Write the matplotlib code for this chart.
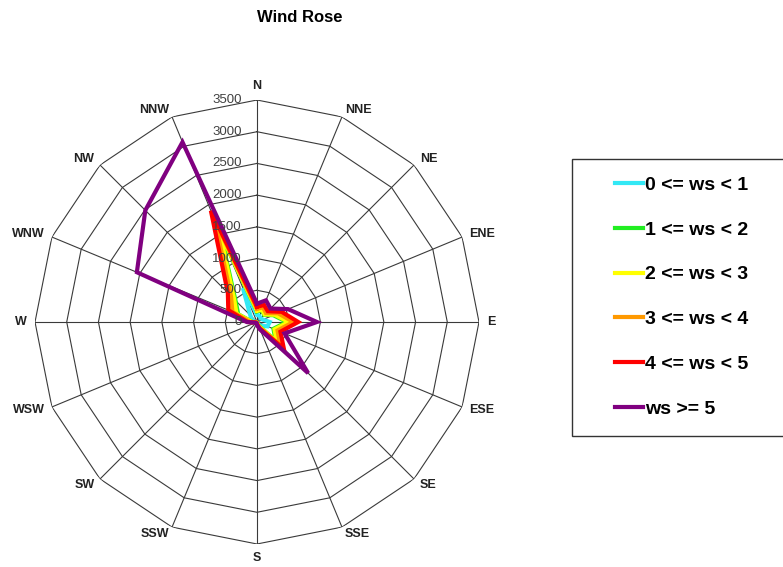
import numpy as np
import matplotlib
matplotlib.use("Agg")
import matplotlib.pyplot as plt
from matplotlib.transforms import offset_copy
from matplotlib.patches import Rectangle

plt.rcParams['font.family'] = ['Liberation Sans', 'DejaVu Sans']

directions = ["N", "NNE", "NE", "ENE", "E", "ESE", "SE", "SSE",
              "S", "SSW", "SW", "WSW", "W", "WNW", "NW", "NNW"]

# cumulative counts per direction for each speed class
ws_0_1 = [120, 100, 80, 100, 200, 180, 80, 30, 10, 5, 5, 5, 30, 80, 150, 580]
ws_1_2 = [170, 200, 160, 280, 470, 280, 420, 60, 15, 8, 8, 8, 70, 320, 480, 1500]
ws_2_3 = [180, 210, 170, 300, 500, 300, 440, 70, 20, 10, 10, 12, 80, 350, 510, 1550]
ws_3_4 = [210, 250, 200, 360, 575, 350, 520, 90, 25, 12, 12, 15, 110, 420, 580, 1750]
ws_4_5 = [240, 290, 240, 420, 650, 400, 600, 110, 35, 15, 15, 20, 150, 490, 650, 1900]
ws_5_up = [290, 370, 300, 530, 945, 470, 1140, 130, 50, 20, 20, 30, 160, 2050, 2490, 3070]

series_labels = ["0 <= ws < 1", "1 <= ws < 2", "2 <= ws < 3",
                 "3 <= ws < 4", "4 <= ws < 5", "ws >= 5"]
ring_values = [0, 500, 1000, 1500, 2000, 2500, 3000, 3500]

colors = ["#33e8f5", "#22ee22", "#ffff00", "#ff9900", "#ff0000", "#800080"]
series = [ws_0_1, ws_1_2, ws_2_3, ws_3_4, ws_4_5, ws_5_up]

W, H = 783, 567
fig = plt.figure(figsize=(W / 100, H / 100), dpi=100)
cx, cy, R = 257, 322, 222
ax = fig.add_axes([(cx - R) / W, (H - cy - R) / H, 2 * R / W, 2 * R / H],
                  projection="polar")
ax.set_theta_zero_location("N")
ax.set_theta_direction(-1)
rmax = ring_values[-1]
ax.set_ylim(0, rmax)
ax.grid(False)
ax.spines["polar"].set_visible(False)
ax.set_xticks([])
ax.set_yticks([])
ax.patch.set_visible(False)

n = len(directions)
theta = np.arange(n) * 2 * np.pi / n
theta_closed = np.append(theta, theta[0])

# polygon rings and spokes
grid_color = "#3a3a3a"
for rv in ring_values[1:]:
    ax.plot(theta_closed, [rv] * (n + 1), color=grid_color, lw=0.8, zorder=1)
for t in theta:
    ax.plot([t, t], [0, rmax], color=grid_color, lw=0.8, zorder=1)

# speed-class outlines, later classes drawn on top
handles = []
for i, (vals, col) in enumerate(zip(series, colors)):
    closed = np.append(vals, vals[0])
    (ln,) = ax.plot(theta_closed, closed, color=col, lw=3.0,
                    solid_joinstyle="miter", zorder=3 + i * 0.1)
    handles.append(ln)

# ring value labels along the north spoke
lab_tr = offset_copy(ax.transData, fig=fig, x=-15, y=0, units="dots")
for rv in ring_values:
    ax.text(0, rv, str(rv), transform=lab_tr, ha="right", va="center",
            fontsize=9.5, color="#404040", zorder=6)

# compass labels just outside the outer ring
gap = 8
for t, d in zip(theta, directions):
    ux, uy = np.sin(t), np.cos(t)
    if ux > 0.01:
        ha, va = "left", "center"
    elif ux < -0.01:
        ha, va = "right", "center"
    else:
        ha, va = "center", ("bottom" if uy > 0 else "top")
    tr = offset_copy(ax.transData, fig=fig, x=gap * ux, y=gap * uy, units="dots")
    ax.text(t, rmax, d, transform=tr, ha=ha, va=va, fontsize=9,
            fontweight="bold", color="#222222", clip_on=False)

fig.text(300 / W, 1 - 17 / H, "Wind Rose", ha="center", va="center",
         fontsize=12, fontweight="bold")

# legend box
fig.patches.append(Rectangle((572 / W, (H - 436) / H), (W - 572 + 5) / W,
                             (436 - 159) / H, transform=fig.transFigure,
                             facecolor="white", edgecolor="#333333", lw=1.0))
fig.legend(handles, series_labels, loc="center left",
           bbox_to_anchor=(597 / W, 1 - 297 / H), frameon=False,
           prop={"weight": "bold", "size": 14}, handlelength=1.45,
           handletextpad=0.1, labelspacing=1.4)

fig.savefig("out.png", dpi=100)
